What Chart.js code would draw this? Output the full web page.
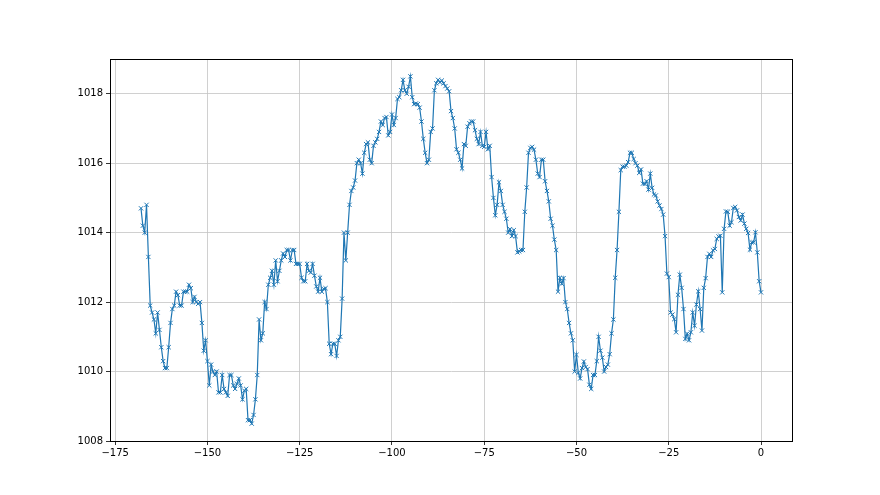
<!DOCTYPE html>
<html>
<head>
<meta charset="utf-8">
<script src="https://cdn.jsdelivr.net/npm/chart.js@4"></script>
<style>
  html, body { margin: 0; padding: 0; background: #fff; }
  #chart { display: block; }
</style>
</head>
<body>
<canvas id="chart" width="880" height="495"></canvas>
<script>
// hours before now (x) and pressure in hPa (y)
const hours = [
  -168,-167.5,-167,-166.5,-166,-165.5,-165,-164.5,-164,-163.5,
  -163,-162.5,-162,-161.5,-161,-160.5,-160,-159.5,-159,-158.5,
  -158,-157.5,-157,-156.5,-156,-155.5,-155,-154.5,-154,-153.5,
  -153,-152.5,-152,-151.5,-151,-150.5,-150,-149.5,-149,-148.5,
  -148,-147.5,-147,-146.5,-146,-145.5,-145,-144.5,-144,-143.5,
  -143,-142.5,-142,-141.5,-141,-140.5,-140,-139.5,-139,-138.5,
  -138,-137.5,-137,-136.5,-136,-135.5,-135,-134.5,-134,-133.5,
  -133,-132.5,-132,-131.5,-131,-130.5,-130,-129.5,-129,-128.5,
  -128,-127.5,-127,-126.5,-126,-125.5,-125,-124.5,-124,-123.5,
  -123,-122.5,-122,-121.5,-121,-120.5,-120,-119.5,-119,-118.5,
  -118,-117.5,-117,-116.5,-116,-115.5,-115,-114.5,-114,-113.5,
  -113,-112.5,-112,-111.5,-111,-110.5,-110,-109.5,-109,-108.5,
  -108,-107.5,-107,-106.5,-106,-105.5,-105,-104.5,-104,-103.5,
  -103,-102.5,-102,-101.5,-101,-100.5,-100,-99.5,-99,-98.5,
  -98,-97.5,-97,-96.5,-96,-95.5,-95,-94.5,-94,-93.5,
  -93,-92.5,-92,-91.5,-91,-90.5,-90,-89.5,-89,-88.5,
  -88,-87.5,-87,-86.5,-86,-85.5,-85,-84.5,-84,-83.5,
  -83,-82.5,-82,-81.5,-81,-80.5,-80,-79.5,-79,-78.5,
  -78,-77.5,-77,-76.5,-76,-75.5,-75,-74.5,-74,-73.5,
  -73,-72.5,-72,-71.5,-71,-70.5,-70,-69.5,-69,-68.5,
  -68,-67.5,-67,-66.5,-66,-65.5,-65,-64.5,-64,-63.5,
  -63,-62.5,-62,-61.5,-61,-60.5,-60,-59.5,-59,-58.5,
  -58,-57.5,-57,-56.5,-56,-55.5,-55,-54.5,-54,-53.5,
  -53,-52.5,-52,-51.5,-51,-50.5,-50,-49.5,-49,-48.5,
  -48,-47.5,-47,-46.5,-46,-45.5,-45,-44.5,-44,-43.5,
  -43,-42.5,-42,-41.5,-41,-40.5,-40,-39.5,-39,-38.5,
  -38,-37.5,-37,-36.5,-36,-35.5,-35,-34.5,-34,-33.5,
  -33,-32.5,-32,-31.5,-31,-30.5,-30,-29.5,-29,-28.5,
  -28,-27.5,-27,-26.5,-26,-25.5,-25,-24.5,-24,-23.5,
  -23,-22.5,-22,-21.5,-21,-20.5,-20,-19.5,-19,-18.5,
  -18,-17.5,-17,-16.5,-16,-15.5,-15,-14.5,-14,-13.5,
  -13,-12.5,-12,-11.5,-11,-10.5,-10,-9.5,-9,-8.5,
  -8,-7.5,-7,-6.5,-6,-5.5,-5,-4.5,-4,-3.5,
  -3,-2.5,-2,-1.5,-1,-0.5,0
];

const pressure = [
  1014.7,1014.2,1014.0,1014.8,1013.3,1011.9,1011.7,1011.5,1011.1,1011.7,
  1011.2,1010.7,1010.3,1010.1,1010.1,1010.7,1011.4,1011.8,1011.9,1012.3,
  1012.2,1011.9,1011.9,1012.3,1012.3,1012.3,1012.5,1012.4,1012.0,1012.15,
  1012.0,1011.95,1012.0,1011.4,1010.6,1010.9,1010.3,1009.6,1010.2,1010.0,
  1009.9,1010.0,1009.4,1009.4,1009.9,1009.5,1009.4,1009.3,1009.9,1009.9,
  1009.6,1009.5,1009.65,1009.8,1009.6,1009.2,1009.45,1009.5,1008.6,1008.6,
  1008.5,1008.75,1009.2,1009.9,1011.5,1010.9,1011.1,1012.0,1011.8,1012.5,
  1012.7,1012.9,1012.5,1013.2,1012.6,1012.9,1013.2,1013.4,1013.3,1013.5,
  1013.5,1013.2,1013.5,1013.5,1013.1,1013.1,1013.1,1012.7,1012.6,1012.6,
  1013.1,1012.9,1012.85,1013.1,1012.76,1012.45,1012.3,1012.7,1012.3,1012.38,
  1012.4,1012.0,1010.8,1010.5,1010.8,1010.8,1010.45,1010.9,1011.0,1012.1,
  1014.0,1013.2,1014.0,1014.8,1015.2,1015.3,1015.5,1016.0,1016.1,1016.0,
  1015.7,1016.3,1016.55,1016.6,1016.1,1016.0,1016.5,1016.6,1016.7,1016.9,
  1017.2,1017.1,1017.3,1017.33,1016.8,1016.9,1017.4,1017.1,1017.3,1017.85,
  1017.9,1018.1,1018.4,1018.1,1018.0,1018.2,1018.5,1017.9,1017.7,1017.72,
  1017.7,1017.6,1017.2,1016.7,1016.3,1016.0,1016.1,1016.9,1017.0,1018.1,
  1018.3,1018.4,1018.33,1018.38,1018.3,1018.22,1018.15,1018.07,1017.5,1017.3,
  1017.0,1016.4,1016.3,1016.1,1015.85,1016.55,1016.5,1017.05,1017.15,1017.2,
  1017.2,1016.95,1016.7,1016.55,1016.9,1016.5,1016.47,1016.9,1016.4,1016.5,
  1015.6,1015.0,1014.5,1014.8,1015.45,1015.2,1014.8,1014.6,1014.4,1014.0,
  1014.1,1013.9,1014.07,1013.9,1013.43,1013.46,1013.5,1013.5,1014.6,1015.3,
  1016.3,1016.44,1016.47,1016.39,1016.1,1015.7,1015.6,1016.1,1016.1,1015.48,
  1015.2,1014.9,1014.4,1014.2,1013.8,1013.5,1012.3,1012.7,1012.53,1012.69,
  1012.0,1011.8,1011.4,1011.1,1010.9,1010.0,1010.48,1009.96,1009.8,1010.1,
  1010.29,1010.13,1010.07,1009.62,1009.5,1009.9,1009.9,1010.3,1011.0,1010.6,
  1010.4,1010.0,1010.13,1010.2,1010.5,1011.1,1011.5,1012.7,1013.5,1014.6,
  1015.8,1015.9,1015.9,1015.93,1016.03,1016.3,1016.3,1016.12,1016.0,1015.93,
  1015.72,1015.82,1015.41,1015.4,1015.48,1015.24,1015.7,1015.29,1015.1,1015.07,
  1014.9,1014.78,1014.68,1014.52,1013.9,1012.82,1012.72,1011.7,1011.64,1011.51,
  1011.13,1012.21,1012.79,1012.41,1011.8,1010.94,1011.09,1010.9,1011.13,1011.7,
  1011.32,1011.93,1012.31,1011.8,1011.18,1012.41,1012.69,1013.3,1013.39,1013.3,
  1013.49,1013.53,1013.82,1013.89,1013.91,1012.28,1014.11,1014.61,1014.6,1014.2,
  1014.3,1014.71,1014.74,1014.64,1014.45,1014.35,1014.52,1014.26,1014.11,1013.99,
  1013.51,1013.72,1013.72,1014.01,1013.43,1012.6,1012.28
];

const xTicks = [-175, -150, -125, -100, -75, -50, -25, 0];
const yTicks = [1008, 1010, 1012, 1014, 1016, 1018];

const BLUE = '#1f77b4';

// plain numbers, with a real minus sign like matplotlib
const fmt = v => String(v).replace('-', '\u2212');

// matplotlib style frame round the plot area
const framePlugin = {
    id: 'frame',
    afterDraw(chart) {
        const { ctx, chartArea: a } = chart;
        ctx.save();
        ctx.strokeStyle = '#000';
        ctx.lineWidth = 1;
        ctx.strokeRect(Math.round(a.left) + 0.5, Math.round(a.top) + 0.5,
            Math.round(a.right - a.left), Math.round(a.bottom - a.top));
        ctx.restore();
    }
};

const el = document.getElementById('chart');
new Chart(el, {
    type: 'line',
    data: {
        datasets: [{
            data: hours.map((h, i) => ({ x: h, y: pressure[i] })),
            borderColor: BLUE,
            borderWidth: 1.2,
            pointStyle: 'crossRot',
            pointRadius: 3,
            pointBorderWidth: 1,
            pointBorderColor: BLUE,
            pointBackgroundColor: BLUE,
            tension: 0,
            fill: false
        }]
    },
    options: {
        responsive: false,
        animation: false,
        devicePixelRatio: 1,
        layout: { padding: { left: 60, right: 88, top: 59, bottom: 34 } },
        plugins: { legend: { display: false }, tooltip: { enabled: false } },
        scales: {
            x: {
                type: 'linear',
                min: -176.4,
                max: 8.4,
                afterBuildTicks: s => { s.ticks = xTicks.map(v => ({ value: v })); },
                afterFit: s => { s.height = 20; },
                grid: { color: '#c4c4c4', lineWidth: 0.8, tickColor: '#000', tickLength: 4 },
                border: { color: '#000', width: 1 },
                ticks: { color: '#000', font: { family: 'DejaVu Sans', size: 10 }, padding: 2, maxRotation: 0, callback: fmt }
            },
            y: {
                min: 1008,
                max: 1019,
                afterBuildTicks: s => { s.ticks = yTicks.map(v => ({ value: v })); },
                afterFit: s => { s.width = 50; },
                grid: { color: '#c4c4c4', lineWidth: 0.8, tickColor: '#000', tickLength: 4 },
                border: { color: '#000', width: 1 },
                ticks: { color: '#000', font: { family: 'DejaVu Sans', size: 10 }, padding: 3, callback: fmt }
            }
        }
    },
    plugins: [framePlugin]
});
</script>
</body>
</html>
